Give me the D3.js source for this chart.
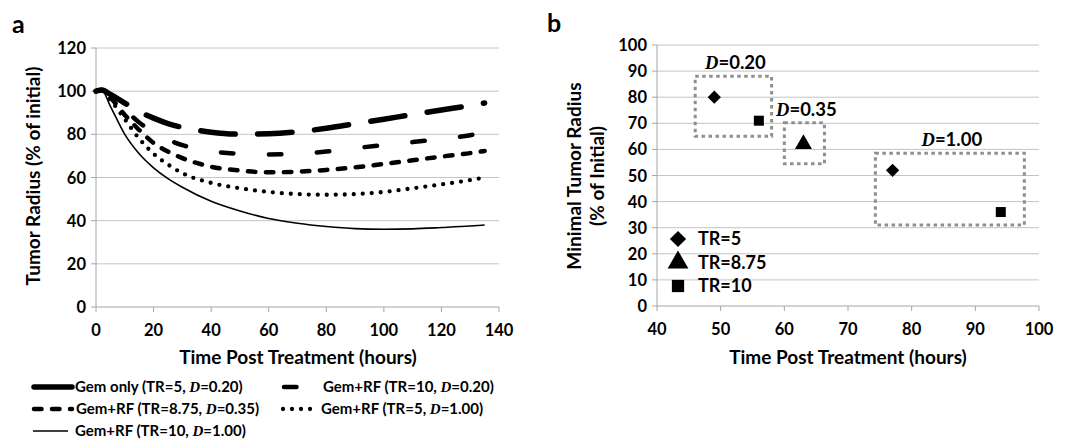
<!DOCTYPE html>
<html>
<head>
<meta charset="utf-8">
<script src="https://cdn.jsdelivr.net/npm/d3@7"></script>
<style>
  body { margin: 0; background: #fff; }
  svg { font-family: Lato, "Open Sans", sans-serif; font-weight: bold; }
</style>
</head>
<body>
<svg></svg>
<script>
var width = 1067;
var height = 439;

// panel a data
var hours = [0, 2, 5, 10, 15, 20, 25, 30, 40, 50, 60, 70, 80, 90, 100, 110, 120, 130, 135];
var gemOnly   = [100, 100.5, 98.5, 94.5, 90.5, 87.5, 85, 83.2, 81, 80.1, 80.3, 81.2, 82.8, 84.9, 87, 89.2, 91.3, 93.3, 94.5];
var rfTr10D20 = [100, 100.5, 98, 91.5, 85.5, 81, 77.5, 75, 72.2, 71, 70.7, 71, 72, 73.6, 75, 76.4, 77.9, 79.6, 81];
var rfTr875D35 = [100, 100.5, 97, 89, 82, 76, 72, 69, 65, 63.2, 62.4, 62.7, 63.5, 64.7, 66.3, 68, 69.7, 71.3, 72.3];
var rfTr5D100 = [100, 100.5, 96, 87, 78, 71, 66, 62, 57.5, 55, 53.3, 52.3, 52, 52.3, 53.3, 55, 56.8, 58.8, 60];
var rfTr10D100 = [100, 100.5, 93, 80, 71, 64.5, 59.5, 55.5, 49, 44.5, 41, 38.8, 37.3, 36.3, 36, 36.2, 36.8, 37.5, 38];
var seriesNames = ["Gem only (TR=5, |0.20)", "Gem+RF (TR=10, |0.20)", "Gem+RF (TR=8.75, |0.35)", "Gem+RF (TR=5, |1.00)", "Gem+RF (TR=10, |1.00)"];
var xTicksA = [0, 20, 40, 60, 80, 100, 120, 140];
var yTicksA = [0, 20, 40, 60, 80, 100, 120];

// panel b data
var minTime   = [49, 56, 63, 77, 94];
var minRadius = [80, 71, 62, 52, 36];
var minTR     = ["TR=5", "TR=10", "TR=8.75", "TR=5", "TR=10"];
var trLegend  = ["TR=5", "TR=8.75", "TR=10"];
var boxD  = ["0.20", "0.35", "1.00"];
var boxX0 = [46, 60, 74.3];
var boxX1 = [58, 66.3, 97.7];
var boxY0 = [65, 54.5, 31];
var boxY1 = [88, 70.2, 58.5];
var xTicksB = [40, 50, 60, 70, 80, 90, 100];
var yTicksB = [0, 10, 20, 30, 40, 50, 60, 70, 80, 90, 100];

var gridColor = "#c4c4c4";
var axisColor = "#a6a6a6";

var svg = d3.select("svg").attr("width", width).attr("height", height);

// line styles: [stroke width, dasharray]
var styles = [
  [5.5, "34.5,22.5"],
  [4.5, "12.5,35.5"],
  [4.5, "7.5,10.5"],
  [4.3, "0,9"],
  [1.6, null]
];

function grid(g, x, y, xt, yt) {
  g.selectAll(".grid").data(yt.slice(1)).enter().append("line")
    .attr("x1", x.range()[0]).attr("x2", x.range()[1])
    .attr("y1", function(d) { return y(d); }).attr("y2", function(d) { return y(d); })
    .attr("stroke", gridColor).attr("stroke-width", 1);
  g.append("line").attr("x1", x.range()[0]).attr("x2", x.range()[1])
    .attr("y1", y(yt[0])).attr("y2", y(yt[0])).attr("stroke", axisColor);
  g.append("line").attr("x1", x.range()[0]).attr("x2", x.range()[0])
    .attr("y1", y.range()[0]).attr("y2", y.range()[1]).attr("stroke", axisColor);
  g.selectAll(".xt").data(xt).enter().append("line")
    .attr("x1", function(d) { return x(d); }).attr("x2", function(d) { return x(d); })
    .attr("y1", y.range()[0]).attr("y2", y.range()[0] + 5).attr("stroke", axisColor);
  g.selectAll(".yt").data(yt).enter().append("line")
    .attr("x1", x.range()[0] - 5).attr("x2", x.range()[0])
    .attr("y1", function(d) { return y(d); }).attr("y2", function(d) { return y(d); })
    .attr("stroke", axisColor);
  g.selectAll(".xl").data(xt).enter().append("text")
    .attr("x", function(d) { return x(d); }).attr("y", y.range()[0] + 29)
    .attr("text-anchor", "middle").attr("font-size", 16.5).text(function(d) { return d; });
  g.selectAll(".yl").data(yt).enter().append("text")
    .attr("x", x.range()[0] - 10).attr("y", function(d) { return y(d) + 6; })
    .attr("text-anchor", "end").attr("font-size", 16.5).text(function(d) { return d; });
}

// label with italic serif D
function dLabel(sel, prefix, value) {
  var t = sel.append("tspan").text(prefix);
  sel.append("tspan").attr("font-family", "Liberation Serif, serif").attr("font-style", "italic").text("D");
  sel.append("tspan").text("=" + value);
}

// ---------- panel a ----------
var xa = d3.scaleLinear().domain([0, 140]).range([96, 499]);
var ya = d3.scaleLinear().domain([0, 120]).range([307, 48]);
var ga = svg.append("g");
grid(ga, xa, ya, xTicksA, yTicksA);

var lineA = d3.line().curve(d3.curveMonotoneX)
  .x(function(d, i) { return xa(hours[i]); })
  .y(function(d) { return ya(d); });

var seriesA = [gemOnly, rfTr10D20, rfTr875D35, rfTr5D100, rfTr10D100];
seriesA.forEach(function(s, i) {
  ga.append("path").attr("d", lineA(s)).attr("fill", "none")
    .attr("stroke", "#000").attr("stroke-width", styles[i][0])
    .attr("stroke-linecap", styles[i][1] ? "round" : "butt")
    .attr("stroke-dasharray", styles[i][1]);
});

svg.append("text").attr("x", 12).attr("y", 33).attr("font-size", 25).text("a");
svg.append("text").attr("x", 298).attr("y", 364).attr("text-anchor", "middle")
  .attr("font-size", 19).text("Time Post Treatment (hours)");
svg.append("text").attr("transform", "translate(40,176) rotate(-90)").attr("text-anchor", "middle")
  .attr("font-size", 19).text("Tumor Radius (% of initial)");

// legend a
var legPos = [[32, 387, 40], [282, 387, 38], [32, 409, 40], [281, 409, 38], [33, 431, 35]];
var legText = [75, 323, 76, 321, 75];
seriesNames.forEach(function(n, i) {
  var p = legPos[i];
  svg.append("line").attr("x1", p[0] + (styles[i][1] ? 2 : 0)).attr("x2", p[0] + p[2])
    .attr("y1", p[1]).attr("y2", p[1]).attr("stroke", "#000")
    .attr("stroke-width", styles[i][0])
    .attr("stroke-linecap", styles[i][1] ? "round" : "butt")
    .attr("stroke-dasharray", i == 0 ? null : styles[i][1]);
  var parts = n.split("|");
  var t = svg.append("text").attr("x", legText[i]).attr("y", p[1] + 5).attr("font-size", 15);
  dLabel(t, parts[0], parts[1]);
});

// ---------- panel b ----------
var xb = d3.scaleLinear().domain([40, 100]).range([657, 1039]);
var yb = d3.scaleLinear().domain([0, 100]).range([306, 45]);
var gb = svg.append("g");
grid(gb, xb, yb, xTicksB, yTicksB);

function shape(tr, big) {
  var k = big ? 1.5 : 1;
  if (tr == "TR=5") return d3.symbol().type(d3.symbolSquare).size(88 * k)();
  if (tr == "TR=8.75") return d3.symbol().type(d3.symbolTriangle).size(125 * k)();
  return d3.symbol().type(d3.symbolSquare).size(100 * k)();
}
function rot(tr) { return tr == "TR=5" ? " rotate(45)" : ""; }

boxD.forEach(function(d, i) {
  gb.append("rect").attr("x", xb(boxX0[i])).attr("y", yb(boxY1[i]))
    .attr("width", xb(boxX1[i]) - xb(boxX0[i])).attr("height", yb(boxY0[i]) - yb(boxY1[i]))
    .attr("fill", "none").attr("stroke", "#8f8f8f").attr("stroke-width", 3)
    .attr("stroke-dasharray", "3.5,3.5");
  var t = gb.append("text").attr("x", (xb(boxX0[i]) + xb(boxX1[i])) / 2 + 2).attr("y", yb(boxY1[i]) - 7)
    .attr("text-anchor", "middle").attr("font-size", 18.5);
  dLabel(t, "", d);
});

gb.selectAll(".pt").data(minTime).enter().append("path")
  .attr("transform", function(d, i) { return "translate(" + xb(d) + "," + yb(minRadius[i]) + ")" + rot(minTR[i]); })
  .attr("d", function(d, i) { return shape(minTR[i]); })
  .attr("fill", "#000");

trLegend.forEach(function(tr, i) {
  var y = 239 + i * 23.5;
  gb.append("path").attr("transform", "translate(678," + y + ")" + rot(tr)).attr("d", shape(tr, true)).attr("fill", "#000");
  gb.append("text").attr("x", 698).attr("y", y + 6).attr("font-size", 18).text(tr);
});

svg.append("text").attr("x", 547).attr("y", 32).attr("font-size", 25).text("b");
svg.append("text").attr("x", 848).attr("y", 364).attr("text-anchor", "middle")
  .attr("font-size", 19).text("Time Post Treatment (hours)");
svg.append("text").attr("transform", "translate(581,176) rotate(-90)").attr("text-anchor", "middle")
  .attr("font-size", 19).text("Minimal Tumor Radius");
svg.append("text").attr("transform", "translate(604,176) rotate(-90)").attr("text-anchor", "middle")
  .attr("font-size", 19).text("(% of Initial)");
</script>
</body>
</html>
